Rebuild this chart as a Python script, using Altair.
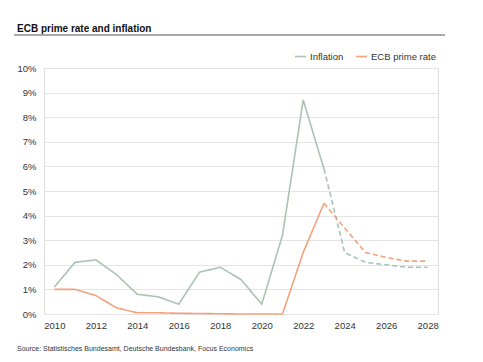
import altair as alt
import pandas as pd

years = list(range(2010, 2029))
inflation = [1.1, 2.1, 2.2, 1.6, 0.8, 0.7, 0.4, 1.7, 1.9, 1.4, 0.4, 3.2, 8.7, 5.9,
             2.5, 2.1, 2.0, 1.9, 1.9]
ecb_rate = [1.0, 1.0, 0.75, 0.25, 0.05, 0.05, 0.03, 0.02, 0.01, 0.0, 0.0, 0.0, 2.5, 4.5,
            3.5, 2.5, 2.3, 2.15, 2.15]
forecast_start = 2023
series_names = ["Inflation", "ECB prime rate"]
series_colors = ["#a8c4b0", "#f3a27c"]

rows = []
for name, vals in zip(series_names, [inflation, ecb_rate]):
    for y, v in zip(years, vals):
        if y <= forecast_start:
            rows.append({"year": y, "value": v, "series": name, "kind": "actual"})
        if y >= forecast_start:
            rows.append({"year": y, "value": v, "series": name, "kind": "forecast"})
df = pd.DataFrame(rows)

FONT = "Liberation Sans"

lines = alt.Chart(df).mark_line(strokeWidth=1.6).encode(
    x=alt.X("year:Q", scale=alt.Scale(domain=[2009.5, 2028.5], nice=False, zero=False),
            axis=alt.Axis(values=list(range(2010, 2029, 2)), format="d", grid=False,
                          domain=False, ticks=False, labelPadding=6, labelFontSize=9.5,
                          labelColor="#333", labelFont=FONT, title=None)),
    y=alt.Y("value:Q", scale=alt.Scale(domain=[0, 10], nice=False),
            axis=alt.Axis(values=list(range(0, 11)), labelExpr="datum.value + '%'",
                          grid=True, gridColor="#e4e4e4", gridWidth=1.2, domain=False,
                          ticks=False, labelPadding=8, labelFontSize=9.5, labelColor="#333",
                          labelFont=FONT, title=None)),
    color=alt.Color("series:N", sort=series_names,
                    scale=alt.Scale(domain=series_names, range=series_colors),
                    legend=alt.Legend(orient="none", legendX=250, legendY=-18,
                                      direction="horizontal", title=None,
                                      symbolType="stroke", symbolSize=120,
                                      symbolStrokeWidth=1.6, labelFontSize=9.5,
                                      labelColor="#333", labelFont=FONT,
                                      columnPadding=8, labelOffset=3)),
    strokeDash=alt.StrokeDash("kind:N",
                              scale=alt.Scale(domain=["actual", "forecast"],
                                              range=[[1, 0], [5, 3]]),
                              legend=None),
    detail="kind:N",
)

title_df = pd.DataFrame({"t": ["ECB prime rate and inflation"]})
title = alt.Chart(title_df).mark_text(align="left", baseline="alphabetic", fontSize=10,
                                      fontWeight="bold", font=FONT, color="#111").encode(
    x=alt.value(-27), y=alt.value(-36), text="t:N")

rule = alt.Chart(title_df).mark_rule(color="#555", strokeWidth=1.2).encode(
    x=alt.value(-30), x2=alt.value(401), y=alt.value(-33))

src_df = pd.DataFrame({"t": ["Source: Statistisches Bundesamt, Deutsche Bundesbank, Focus Economics"]})
source = alt.Chart(src_df).mark_text(align="left", baseline="alphabetic", fontSize=7,
                                     font=FONT, color="#333").encode(
    x=alt.value(-27), y=alt.value(283), text="t:N")

chart = alt.layer(lines, title, rule, source).properties(
    width=394, height=246,
    autosize=alt.AutoSizeParams(type="none"),
    padding={"left": 36, "top": 60, "right": 37, "bottom": 40},
).configure_view(stroke=None).configure(background="white")

chart.save("out.html", embed_options={"renderer": "svg", "actions": False})
